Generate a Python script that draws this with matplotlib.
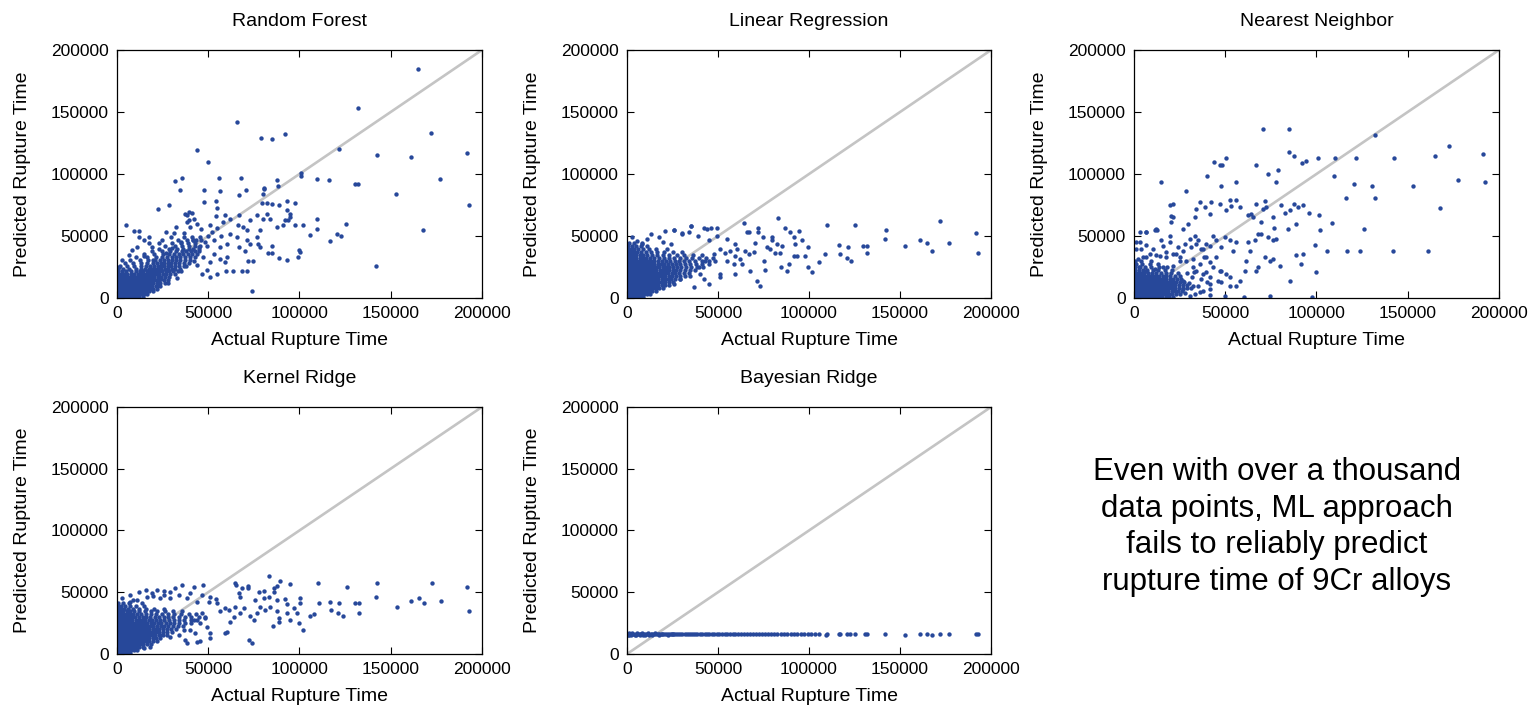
import matplotlib
matplotlib.use("Agg")
import matplotlib.pyplot as plt
import numpy as np

plt.rcParams['font.family'] = ['Liberation Sans', 'DejaVu Sans']

# ---------------- text / ticks ----------------
titles = ["Random Forest", "Linear Regression", "Nearest Neighbor", "Kernel Ridge", "Bayesian Ridge"]
x_label = "Actual Rupture Time"
y_label = "Predicted Rupture Time"
tick_values = [0, 50000, 100000, 150000, 200000]
tick_labels = ["0", "50000", "100000", "150000", "200000"]
note = "Even with over a thousand\ndata points, ML approach\nfails to reliably predict\nrupture time of 9Cr alloys"

# ---------------- data (thousands of hours): (actual, predicted) ----------------
rf_points = [
    (165, 185), (132, 153), (172, 133), (65.6, 142), (78.8, 129), (85, 128), (92, 132), (44, 119), (50, 110),
    (121.6, 120), (142.6, 115), (161, 114), (191.6, 117), (177, 96), (192.7, 75), (167.7, 55), (141.8, 25.8),
    (153, 84), (130.3, 92), (132.3, 92), (116, 95), (109.7, 96), (100.6, 100.7), (100.6, 98.5), (74, 5.4),
    (22.4, 72), (28.6, 75), (32, 94), (35.7, 96.6), (34.6, 86.7), (56, 97), (67.8, 97), (67, 83), (70.8, 87),
    (56.5, 86.5), (47.8, 87), (47.8, 77.6), (54, 77.9), (55, 72.8), (80.8, 89), (80.8, 87.5), (80.2, 83.5),
    (87.5, 95), (88, 90), (89, 74.6), (93, 78), (85, 76), (82, 77), (79.6, 77), (93, 70.6), (95, 68), (94.7, 65),
    (93.9, 62.6), (97.5, 77), (97.5, 59), (102, 59), (109.7, 64), (109.7, 55.6), (106, 51), (116.7, 46),
    (120.5, 52), (123, 50), (125.6, 60), (99, 33), (100, 39), (100.3, 37), (93, 31), (89, 32), (85, 36.5),
    (85, 42), (82.6, 36.5), (78.4, 41), (77.5, 43.8), (68.5, 22), (71.4, 22), (63.8, 22), (60, 22), (59, 29),
    (72, 30), (74.8, 29.5), (70, 38), (67, 41),
    (67.1, 66.6), (66.5, 59.1), (62, 63.9), (59.2, 66.6), (58, 61.2), (54.3, 65.8), (55, 56.4), (51, 58.5),
    (50.1, 49.7), (52, 53.2), (45.6, 49.1), (41.9, 47), (40.1, 57.2), (38.3, 61.2), (37.4, 67.9), (39.2, 69.3),
    (43.4, 46.5), (44.7, 41.1), (49.2, 41.6), (52.9, 35.7), (56.5, 41.1), (60.2, 43.8), (62, 51.8), (65.6, 49.1),
    (69.3, 57.2), (71.1, 54.5), (72.9, 62.6), (76.6, 66.6), (78.4, 54.5), (80.2, 63.9), (82, 67.9), (83.9, 63.9),
    (87.5, 57.2), (91.2, 58.5), (92.1, 62.6), (71.1, 46.5), (72.9, 43.8), (76.6, 49.1), (60.2, 33), (56.5, 31.7),
    (51, 29), (49.2, 22.3), (51, 16.9), (54.7, 19.6), (46.5, 19.6),
    (4.7, 58.9), (9.3, 54), (12, 54), (14.8, 46.7), (17.5, 49.4), (11.1, 41.3), (8.4, 38.6), (2.9, 30.5),
    (1.1, 25.1), (6.6, 34.6), (19.4, 41.3), (23, 44), (26.7, 53.4), (31.3, 52.1), (36.8, 52.1), (32.1, 57.5),
    (39.5, 62.9), (38.6, 67), (41.3, 68.3), (42, 64),
    (45, 38), (47, 33), (42, 30), (38, 26), (35, 22), (33, 16), (44, 27), (48, 45), (53, 47), (57, 50),
    (46, 56), (44, 60), (35, 45), (30, 40), (27, 36), (20, 31), (15, 34), (24, 15), (28, 12), (22, 10),
]
rf_core = [
    (0.8, [0.2, 1.4, 2.9, 4.3, 5.8, 7.4, 9.0, 10.6, 12.3, 14.0]),
    (3.0, [0.4, 1.9, 3.4, 5.0, 6.5, 8.1, 9.7, 11.3, 12.9, 14.6, 16.4]),
    (5.3, [0.2, 1.6, 3.1, 4.7, 6.2, 7.8, 9.4, 11.0, 12.6, 14.2, 15.9, 17.7, 19.8]),
    (7.6, [0.5, 2.0, 3.6, 5.1, 6.7, 8.3, 9.9, 11.5, 13.1, 14.7, 16.3, 18.0, 19.8, 22.1]),
    (9.9, [0.2, 1.7, 3.3, 4.8, 6.4, 8.0, 9.6, 11.2, 12.8, 14.4, 16.0, 17.7, 19.4, 21.2, 23.5]),
    (12.2, [0.6, 2.1, 3.7, 5.3, 6.9, 8.5, 10.1, 11.7, 13.3, 14.9, 16.5, 18.2, 19.9, 21.7, 23.8, 26.4]),
    (14.5, [0.3, 1.9, 3.5, 5.0, 6.6, 8.2, 9.8, 11.4, 13.0, 14.6, 16.2, 17.9, 19.6, 21.4, 23.3, 25.5, 28.0]),
    (16.8, [0.5, 2.2, 3.9, 5.6, 7.3, 9.0, 10.7, 12.3, 13.9, 15.5, 17.1, 18.8, 20.5, 22.3, 24.2, 26.3, 28.6]),
    (19.1, [0.3, 2.0, 3.8, 5.7, 7.6, 9.5, 11.3, 13.0, 14.7, 16.4, 18.1, 19.8, 21.5, 23.3, 25.1, 27.0, 29.2, 31.8]),
    (21.4, [0.6, 2.6, 4.9, 7.5, 10.2, 12.6, 14.5, 16.3, 18.0, 19.7, 21.4, 23.1, 24.9, 26.7, 28.6, 30.7, 33.4]),
    (23.7, [0.4, 3.2, 6.8, 10.5, 13.4, 15.6, 17.5, 19.3, 21.0, 22.7, 24.4, 26.2, 28.0, 29.9, 32.0, 34.6]),
    (26.0, [1.8, 5.5, 9.6, 13.2, 16.0, 18.3, 20.4, 22.3, 24.1, 25.9, 27.7, 29.6, 31.6, 33.9, 36.5]),
    (28.3, [4.2, 8.9, 13.1, 16.7, 19.5, 21.9, 24.0, 26.0, 27.9, 29.8, 31.8, 34.0, 36.6, 39.3]),
    (30.6, [7.0, 12.4, 17.1, 20.8, 23.6, 26.0, 28.2, 30.3, 32.4, 34.6, 37.1, 39.8]),
    (32.9, [10.5, 16.2, 21.3, 24.9, 27.6, 30.1, 32.5, 34.8, 37.2, 39.9, 42.6]),
    (35.2, [14.8, 20.5, 25.2, 28.6, 31.4, 33.9, 36.3, 38.7, 41.3, 44.1]),
    (37.5, [19.0, 24.6, 29.1, 32.5, 35.4, 38.0, 40.4, 43.0]),
    (39.8, [22.8, 28.5, 32.9, 36.3, 39.2, 41.9, 44.8]),
    (42.1, [26.5, 31.8, 35.9, 39.4, 42.6, 45.7]),
    (44.4, [17.3, 30.4, 35.1, 39.0, 42.9]),
    (46.7, [24.7, 33.6, 38.2, 41.8, 46.0]),
    (49.0, [12.0, 29.8, 36.7, 40.9]),
]

lr_points = [
    (82.7, 64.4), (64, 60.4), (71.7, 56.3), (71.7, 53.6), (65.9, 53.6), (67, 53.6), (46.1, 56.3), (42.1, 56.3),
    (35.1, 57.7), (30.2, 52.3), (26, 55), (21, 54.4), (33.9, 53.6), (38.8, 50.4), (44.8, 46.4), (49.4, 49.6),
    (54.9, 47.2), (59.1, 43.7), (70.1, 44.2), (74.7, 49.1), (79.8, 49.1), (86.6, 56.3), (89.7, 53.1), (94.6, 54.4),
    (91.5, 49.1), (99.7, 41), (109.8, 59), (116.2, 43.1), (121.3, 41), (129.9, 41.8), (131.8, 41.8), (125.4, 58.5),
    (142.2, 55.2), (141.5, 47.7), (152.8, 42.3), (160.7, 46.4), (164.7, 44.5), (167.4, 38.3), (172, 61.7),
    (177.1, 44.5), (191.6, 52.3), (192.7, 36.1), (132.1, 36.1), (116.8, 35.6), (120.8, 32.3), (123.2, 30.2),
    (108.5, 35.6), (105.6, 28.8), (101.6, 21.3), (99.2, 24.8), (97.9, 34.2), (96.1, 46.4), (92.4, 43.7),
    (93.3, 34.2), (91.5, 34.2), (88.8, 27.5), (87.8, 22.1), (84.7, 24.8), (84.2, 36.4), (81.1, 36.4), (78.7, 39.6),
    (76.9, 41), (85.1, 42.3), (82.4, 43.7), (79.6, 46.4), (75, 30.2), (75.9, 22.9), (71.4, 14), (73.2, 9.4),
    (67.3, 22.1), (63.1, 27.5), (62.2, 31.5), (66.8, 35.6), (69.5, 36.9), (64.9, 38.3), (59.5, 19.4), (58.6, 27.5),
    (54.9, 30.2), (51.2, 19.4), (51.2, 16.7), (44.8, 11.3), (36.6, 8.6), (42.1, 15.4), (51.2, 39.6), (53.9, 36.4),
    (56.7, 38.3), (60.4, 39.6), (59.5, 34.2), (47.6, 35.6), (43, 30.2), (39.3, 24.8), (40.3, 19.4), (34.8, 18.1),
    (29.3, 15.4), (25.6, 11.3),
    (2.9, 49), (8.4, 43.7), (13, 51.8), (17.6, 49), (25.8, 55), (30.4, 51.8), (5.5, 46), (11, 47.5), (20, 45),
    (24, 43.5), (34.9, 57.7), (44, 56), (49.4, 56.7),
]
lr_core = [
    (0.8, [0.2, 1.5, 2.9, 4.3, 5.8, 7.3, 8.9]),
    (3.2, [0.4, 1.8, 3.2, 4.7, 6.2, 7.7, 9.2, 10.8, 12.5]),
    (5.6, [0.2, 1.6, 3.0, 4.5, 6.0, 7.5, 9.0, 10.6, 12.2, 13.9, 15.8]),
    (8.0, [0.5, 1.9, 3.4, 4.9, 6.4, 7.9, 9.4, 11.0, 12.6, 14.2, 15.9, 17.7, 19.8]),
    (10.4, [0.3, 1.7, 3.2, 4.7, 6.2, 7.7, 9.2, 10.8, 12.4, 14.0, 15.6, 17.3, 19.0, 20.9, 23.2]),
    (12.8, [0.5, 2.0, 3.5, 5.0, 6.5, 8.0, 9.5, 11.1, 12.7, 14.3, 15.9, 17.5, 19.2, 21.0, 23.0, 25.4]),
    (15.2, [0.2, 1.7, 3.2, 4.7, 6.2, 7.7, 9.3, 10.9, 12.5, 14.1, 15.7, 17.3, 19.0, 20.7, 22.5, 24.4, 26.6, 29.1]),
    (17.6, [0.5, 2.0, 3.5, 5.0, 6.5, 8.1, 9.7, 11.3, 12.9, 14.5, 16.1, 17.7, 19.4, 21.1, 22.9, 24.8, 26.9, 29.3, 32.0]),
    (20.0, [0.3, 1.8, 3.3, 4.8, 6.3, 7.9, 9.5, 11.1, 12.7, 14.3, 15.9, 17.5, 19.2, 20.9, 22.7, 24.6, 26.6, 28.8, 31.2, 34.0]),
    (22.4, [0.6, 2.1, 3.6, 5.1, 6.6, 8.2, 9.8, 11.4, 13.0, 14.6, 16.2, 17.9, 19.6, 21.4, 23.2, 25.1, 27.1, 29.3, 31.7, 34.4, 37.5]),
    (24.8, [0.3, 1.8, 3.3, 4.8, 6.3, 7.9, 9.5, 11.1, 12.7, 14.4, 16.1, 17.8, 19.6, 21.4, 23.3, 25.3, 27.4, 29.7, 32.2, 35.0, 38.3, 41.8]),
    (27.2, [0.5, 2.0, 3.5, 5.1, 6.7, 8.3, 9.9, 11.6, 13.3, 15.0, 16.8, 18.6, 20.5, 22.5, 24.6, 26.8, 29.2, 31.8, 34.6, 37.8, 41.4, 45.3]),
    (29.6, [0.2, 1.7, 3.2, 4.8, 6.4, 8.0, 9.7, 11.4, 13.2, 15.1, 17.1, 19.2, 21.4, 23.7, 26.1, 28.6, 31.3, 34.2, 37.5, 41.2, 45.0, 48.6]),
    (32.0, [0.5, 2.0, 3.6, 5.2, 6.9, 8.7, 10.6, 12.7, 15.0, 17.6, 20.3, 23.1, 26.0, 29.0, 32.3, 35.9, 39.8, 43.6, 47.1]),
    (34.4, [0.3, 1.8, 3.4, 5.1, 6.9, 8.9, 11.2, 13.8, 16.7, 19.8, 23.3, 27.2, 31.4, 36.0, 41.2]),
    (36.8, [0.5, 2.1, 3.8, 5.7, 7.8, 10.2, 13.1, 16.5, 20.4, 25.0, 30.3]),
    (39.2, [0.3, 2.0, 3.9, 6.1, 8.7, 12.0, 16.2, 21.8]),
    (41.6, [0.6, 2.5, 4.8, 7.6, 11.2]),
    (44.0, [1.2, 3.9, 8.3]),
]

nn_points = [
    (70.7, 136.6), (84.9, 136.6), (132.2, 131.2), (172.6, 122.6), (164.9, 114.8), (191.5, 115.9), (142.4, 112.9),
    (121.6, 112.9), (109.9, 112.9), (100.8, 112.9), (94.4, 110.8), (92, 108.9), (87.6, 114.8), (84.9, 117.8),
    (50.2, 112.9), (43.8, 109.7), (47.3, 107), (48.4, 107), (67, 107), (78.9, 102.9), (73.4, 99.7), (77.6, 93.5),
    (56.1, 93.5), (47.7, 90.3), (40.2, 98.1), (15, 93.5), (28.3, 86), (109.6, 98.6), (120.7, 92.2), (130.4, 90.3),
    (152.8, 90.3), (177.5, 95.4), (192.6, 93.5), (116.3, 80.6), (132.2, 80.6), (167.8, 72.5), (125.8, 55.8),
    (108.6, 60.6), (101.2, 67.1), (101.7, 55.2), (105.9, 37.7), (117, 38.3), (123.6, 38.3), (141.9, 38.3),
    (161, 38.3), (99, 42.6), (99.9, 20.8), (97.7, 0.5), (74.3, 1.9), (60.3, 0.5), (49.7, 1.9), (85.3, 14),
    (80.2, 26.1), (88.9, 35), (92.6, 35.6), (91.7, 27.5), (88.6, 59.8), (84.4, 55.8), (85.3, 70.6), (89.8, 73.3),
    (92.6, 74.7), (82.5, 68.7), (87.5, 76), (95.9, 68.7), (80.3, 74.7), (76.1, 65.2), (72.5, 73.3), (71.6, 77.9),
    (76.5, 56.3), (78, 47.7), (76.1, 46.4), (73.4, 49), (69.8, 51.7), (74.3, 30.2), (76.1, 31.5), (71.6, 32.9),
    (67.9, 24.8), (66.6, 22.1), (60.6, 22.1), (61.5, 29.6), (66.1, 46.4), (62.4, 45.3), (63.4, 38.3), (69.8, 61.2),
    (67.9, 51.7), (65.2, 65.2), (64.3, 67.9), (62.4, 66.6), (70.7, 72), (67, 76), (57.9, 73.3), (55.7, 78.7),
    (52.4, 78.7), (53.3, 74.1), (50.6, 70.6), (46.9, 76), (42.4, 77.3), (41.4, 67.9), (38.7, 73.3), (36, 77.3),
    (34.1, 72), (33.2, 65.2), (29.6, 59.8), (26.8, 55.8), (20.5, 66), (20.5, 61.2), (21.4, 76), (19.6, 74.7),
    (12.6, 55.2), (11.3, 55), (6.4, 53.1), (3.1, 53.1), (0.9, 45), (0.9, 39.6), (47.8, 22.1), (50.6, 19.4),
    (52.4, 10), (41.4, 7.3), (46, 14), (41.9, 16.7), (56.1, 10), (57.9, 14), (54.2, 38.3), (52.4, 46.4),
    (56.1, 45.5), (49.7, 49), (47.8, 41), (45.1, 46.4), (43.3, 50.4), (39.6, 43.7), (36.9, 39.6), (35.1, 46.4),
    (33.2, 50.4), (30.5, 47.7), (27.8, 43.7), (24.1, 41), (19.5, 45), (15.9, 42.3), (15, 46.4), (10.4, 39.6),
    (6.8, 43.1), (8.6, 35.6), (4.9, 32.9), (38.3, 32.9), (41.4, 28.8), (45.1, 32.9), (36, 27.5), (32.3, 24.8),
    (28.7, 30.2), (25, 32.9), (21.4, 35.6), (17.7, 32.9), (14.1, 34.2),
    (3.1, 45), (6.8, 53.1), (12.3, 55.9), (21.4, 65.3), (19.6, 50.4), (4, 39.7), (2.2, 31.6), (6.8, 32.9),
    (12.3, 34.3), (17.7, 36.9), (23.2, 35.6), (26.8, 38.3), (31.4, 41), (34.2, 43.7), (37.8, 39.7), (41.5, 42.3),
    (39.7, 32.9), (32.3, 31.6), (25, 30.2), (21.4, 26.2), (15.9, 24.8), (11.3, 23.5), (6.8, 22.1), (3.1, 24.8),
    (0.4, 27.5), (34.2, 22.1), (39.7, 20.7), (43.3, 24.8), (46.9, 22.1), (41.5, 11.3), (47.9, 12.6), (52.4, 16.7),
    (26.8, 7.3), (32.3, 10), (37.8, 5.9), (41.5, 2.7), (27, 14), (30, 12), (32, 17), (35, 10), (37, 15), (29, 20),
    (33, 21), (38, 19), (40, 13), (31, 8), (36, 5), (28, 4), (30.5, 1.5), (33.5, 3),
]
nn_core = [
    (0.8, [0.2, 1.6, 3.0, 4.5, 6.0, 7.5, 9.0, 10.6, 12.2, 13.8, 15.5, 17.3, 19.2, 21.3]),
    (3.2, [0.4, 1.8, 3.3, 4.8, 6.3, 7.8, 9.3, 10.9, 12.5, 14.1, 15.7, 17.4, 19.1, 20.9, 22.8, 25.0]),
    (5.6, [0.2, 1.6, 3.1, 4.6, 6.1, 7.6, 9.2, 10.8, 12.4, 14.0, 15.6, 17.2, 18.9, 20.6, 22.4, 24.3, 26.5]),
    (8.0, [0.5, 1.9, 3.4, 4.9, 6.4, 7.9, 9.5, 11.1, 12.7, 14.3, 15.9, 17.5, 19.2, 20.9, 22.7, 24.6, 26.8, 29.3]),
    (10.4, [0.3, 1.7, 3.2, 4.7, 6.2, 7.8, 9.4, 11.0, 12.6, 14.2, 15.8, 17.4, 19.1, 20.8, 22.6, 24.5, 26.6, 28.9]),
    (12.8, [0.5, 2.0, 3.5, 5.0, 6.6, 8.2, 9.8, 11.4, 13.0, 14.6, 16.2, 17.9, 19.6, 21.4, 23.3, 25.3, 27.5]),
    (15.2, [0.2, 1.7, 3.2, 4.8, 6.4, 8.0, 9.6, 11.2, 12.8, 14.4, 16.1, 17.8, 19.6, 21.5, 23.5, 25.8]),
    (17.6, [0.5, 2.1, 3.7, 5.3, 6.9, 8.6, 10.3, 12.0, 13.8, 15.7, 17.7, 19.9, 22.3, 25.0]),
    (20.0, [0.3, 2.0, 3.8, 5.7, 7.7, 9.8, 12.1, 14.6, 17.4, 20.5, 23.9]),
    (22.4, [0.6, 2.6, 4.9, 7.4, 10.2, 13.3, 16.8, 20.6]),
    (24.8, [0.4, 3.0, 6.1, 9.6, 13.5, 18.0]),
    (27.2, [1.2, 4.5, 8.6, 13.2]),
    (29.6, [0.5, 3.8, 9.1]),
]

kr_points = [
    (83.1, 63.2), (89.5, 59.2), (95, 56.5), (87.6, 55.1), (85.8, 53.2), (86.2, 50.5), (64.8, 57.8), (65, 56),
    (71.6, 55.1), (71.8, 53.2), (68.5, 53.2), (66.6, 49.2), (67.6, 46.5), (77.6, 50.5), (80.3, 51.1), (75.8, 43.8),
    (80.3, 45.1), (83.1, 46.5), (87.6, 43.8), (92.2, 44.3), (93.1, 40.5), (100.4, 45.1), (100.4, 41.1),
    (110.1, 57.8), (110.5, 41.6), (116.9, 42.4), (121.8, 41.6), (130.6, 41.1), (132.4, 41.1), (126, 54.6),
    (142.4, 57.3), (142, 46.5), (153.4, 38.4), (161.2, 43.2), (165.3, 45.7), (168, 41.6), (172.6, 57.3),
    (177.7, 43), (191.7, 54.6), (193, 35.1), (132.7, 33.5), (117.4, 35.7), (121.1, 33), (123.8, 30.8),
    (105.9, 30.8), (107.7, 32.4), (101.9, 19.5), (99.5, 25.4), (98.6, 33), (96.8, 37), (93.1, 33), (94.9, 27.6),
    (88.9, 28.9), (88.6, 26.2), (85.3, 23), (87.6, 34.9), (84, 38.4), (81.3, 35.7), (78.5, 38.4), (72.7, 30.8),
    (74.9, 27.6), (72.1, 11.4), (73.9, 8.6), (76.7, 33), (69.4, 37), (67.6, 33), (64.8, 38.4), (64.1, 30.3),
    (62.1, 26.2), (60.3, 18.1), (59.3, 16.8), (51.1, 16.8), (51.1, 12.7), (49.3, 22.2), (45.7, 10.8), (43.8, 10),
    (38.3, 9.2), (37.4, 11.4), (56.6, 34.9), (59.3, 37), (61.2, 35.7), (54.8, 41.1), (54.4, 44.3), (51.1, 46),
    (47.1, 56), (42.4, 54.6), (35.6, 56), (32, 53.2), (25.6, 51.1), (21.9, 51.9), (19.2, 49.2), (23.7, 45.1),
    (33.8, 47.8), (40.2, 49.2), (46.6, 47.8), (50.2, 42.4), (43.8, 42.4), (38.3, 45.1), (29.2, 45.1), (16.4, 46.5),
    (13.7, 41.1), (11, 43.8), (7.3, 42.4), (46.6, 33), (48.4, 28.9), (42, 27.6), (45.7, 25.4), (42.9, 16.8),
    (40.2, 19.5), (36.5, 19.5), (33.8, 15.4), (29.2, 14.1), (23.7, 15.4), (18.3, 5.9), (14.6, 4.6),
    (3, 45), (7, 48), (12, 50), (16, 52), (20, 47), (26, 48), (29, 50), (9, 44),
]
kr_core = [
    (0.8, [0.2, 1.5, 2.9, 4.3, 5.8, 7.4]),
    (3.2, [0.4, 1.8, 3.2, 4.7, 6.2, 7.7, 9.3, 11.0]),
    (5.6, [0.2, 1.6, 3.0, 4.5, 6.0, 7.5, 9.0, 10.6, 12.3, 14.2]),
    (8.0, [0.5, 1.9, 3.4, 4.9, 6.4, 7.9, 9.4, 11.0, 12.6, 14.3, 16.2, 18.4]),
    (10.4, [0.3, 1.7, 3.2, 4.7, 6.2, 7.7, 9.2, 10.8, 12.4, 14.0, 15.7, 17.5, 19.5, 21.8]),
    (12.8, [0.5, 2.0, 3.5, 5.0, 6.5, 8.0, 9.6, 11.2, 12.8, 14.4, 16.0, 17.7, 19.5, 21.4, 23.6]),
    (15.2, [0.2, 1.7, 3.2, 4.7, 6.2, 7.8, 9.4, 11.0, 12.6, 14.2, 15.8, 17.5, 19.2, 21.0, 22.9, 25.0, 27.6]),
    (17.6, [0.5, 2.0, 3.5, 5.0, 6.6, 8.2, 9.8, 11.4, 13.0, 14.6, 16.2, 17.9, 19.6, 21.4, 23.3, 25.3, 27.5, 30.1]),
    (20.0, [0.3, 1.8, 3.3, 4.9, 6.5, 8.1, 9.7, 11.3, 12.9, 14.5, 16.1, 17.8, 19.5, 21.3, 23.2, 25.2, 27.3, 29.6, 32.2]),
    (22.4, [0.6, 2.1, 3.6, 5.2, 6.8, 8.4, 10.0, 11.6, 13.2, 14.8, 16.5, 18.2, 20.0, 21.9, 23.9, 26.0, 28.2, 30.6, 33.3, 36.4]),
    (24.8, [0.3, 1.8, 3.4, 5.0, 6.6, 8.2, 9.8, 11.4, 13.1, 14.8, 16.6, 18.4, 20.3, 22.3, 24.4, 26.6, 28.9, 31.4, 34.2, 37.3, 40.8]),
    (27.2, [0.5, 2.0, 3.6, 5.2, 6.8, 8.5, 10.2, 11.9, 13.7, 15.5, 17.4, 19.4, 21.5, 23.7, 26.0, 28.4, 31.0, 33.8, 36.9, 40.3, 44.0]),
    (29.6, [0.2, 1.7, 3.3, 4.9, 6.6, 8.3, 10.1, 12.0, 14.0, 16.1, 18.3, 20.6, 23.0, 25.5, 28.1, 30.9, 33.9, 37.2, 40.8, 44.7, 48.5]),
    (32.0, [0.5, 2.0, 3.6, 5.3, 7.1, 9.0, 11.1, 13.4, 15.9, 18.6, 21.5, 24.6, 27.9, 31.4, 35.2, 39.3, 43.5]),
    (34.4, [0.3, 1.8, 3.5, 5.3, 7.3, 9.6, 12.2, 15.1, 18.4, 22.1, 26.3, 30.9, 35.8]),
    (36.8, [0.5, 2.2, 4.1, 6.3, 8.9, 12.0, 15.8, 20.4, 25.8]),
    (39.2, [0.3, 2.1, 4.3, 7.0, 10.4, 14.9]),
    (41.6, [0.8, 3.2, 6.4]),
]

br_points = [
    (0.2, 16.4), (0.9, 15.7), (1.7, 16.2), (2.6, 15.9), (3.4, 16.5), (4.3, 15.6), (5.1, 16.1), (6.0, 16.4),
    (6.9, 15.8), (7.8, 16.2), (8.6, 15.6), (9.5, 16.3), (10.4, 15.9), (11.3, 16.4), (12.2, 15.7), (13.1, 16.1),
    (14.0, 16.3), (15.0, 15.8), (15.9, 16.2), (16.9, 15.9), (17.8, 16.3), (18.8, 15.8), (19.8, 16.1), (20.8, 16.2),
    (21.8, 15.8), (22.8, 16.1), (23.9, 16.3), (24.9, 15.9), (26.0, 16.1), (27.1, 16.2), (28.2, 15.8), (29.3, 16.0),
    (30.4, 16.2), (31.6, 15.9), (32.7, 16.1), (33.9, 16.0), (35.1, 16.2), (36.3, 15.9), (37.5, 16.1), (38.7, 16.0),
    (40.0, 15.9), (41.3, 16.1), (42.6, 16.0), (43.9, 15.8), (45.2, 16.1), (46.6, 16.0), (48.0, 15.9), (49.4, 16.1),
    (50.8, 16.0), (52.2, 15.8), (53.7, 16.0), (55.1, 16.1), (56.6, 15.9), (58.1, 16.0), (59.6, 15.8), (61.1, 16.0),
    (62.7, 15.9), (64.2, 16.1), (65.8, 15.8), (67.4, 16.0), (69.0, 15.9), (70.6, 16.0), (72.3, 15.8), (74.0, 16.0),
    (75.7, 15.9), (77.4, 16.1), (79.1, 15.9), (80.8, 16.0), (82.6, 15.8), (84.4, 16.0), (86.2, 16.1), (88.0, 15.9),
    (89.9, 16.0), (91.7, 15.8), (93.6, 16.0), (95.5, 16.1), (97.4, 15.9), (99.3, 16.0), (101.3, 15.8), (103.2, 16.0),
    (105.6, 15.9), (109.2, 15.7), (110.0, 16.0), (116.2, 16.1), (117.0, 15.8), (120.8, 16.2), (122.6, 16.0),
    (125.0, 16.1), (130.5, 15.8), (132.0, 15.9), (141.8, 16.2), (152.8, 15.6), (160.7, 15.8), (164.7, 16.3),
    (167.4, 15.7), (172.0, 15.8), (177.0, 16.2), (191.6, 16.1), (192.7, 16.0),
    (0.5, 15.4), (1.3, 16.7), (2.2, 15.3), (3.0, 16.7), (4.7, 15.4), (5.6, 16.7), (7.3, 15.4), (8.2, 16.6),
    (10.0, 15.4), (11.8, 16.6), (13.6, 15.4), (15.5, 16.6), (17.4, 15.5), (19.3, 16.5), (22.3, 15.5), (25.4, 16.5),
]

# ---------------- helpers ----------------
def gather(points, core_rows):
    xs = [p[0] for p in points]
    ys = [p[1] for p in points]
    for yv, row in core_rows:
        xs.extend(row)
        ys.extend([yv] * len(row))
    return np.array(xs) * 1000, np.array(ys) * 1000

panels = [
    (titles[0], gather(rf_points, rf_core), [0.0763, 0.5779, 0.2381, 0.3513]),
    (titles[1], gather(lr_points, lr_core), [0.4090, 0.5779, 0.2375, 0.3513]),
    (titles[2], gather(nn_points, nn_core), [0.7397, 0.5779, 0.2381, 0.3513]),
    (titles[3], gather(kr_points, kr_core), [0.0763, 0.0737, 0.2381, 0.3499]),
    (titles[4], gather(br_points, []), [0.4090, 0.0737, 0.2375, 0.3499]),
]

point_color = '#27489a'
line_color = '#c4c4c4'

fig = plt.figure(figsize=(15.33, 7.06), dpi=100)
for title, (xs, ys), rect in panels:
    ax = fig.add_axes(rect)
    ax.plot([0, 200000], [0, 200000], color=line_color, lw=1.9, zorder=1)
    ax.scatter(xs, ys, s=10, c=point_color, linewidths=0, zorder=2)
    ax.set_xlim(0, 200000)
    ax.set_ylim(0, 200000)
    ax.set_xticks(tick_values)
    ax.set_xticklabels(tick_labels)
    ax.set_yticks(tick_values)
    ax.set_yticklabels(tick_labels)
    ax.tick_params(direction='in', top=True, right=True, length=5, width=0.8,
                   labelsize=12.5, pad=6)
    for sp in ax.spines.values():
        sp.set_linewidth(0.9)
    ax.set_title(title, fontsize=14, pad=17)
    ax.set_xlabel(x_label, fontsize=14, labelpad=8)
    ax.set_ylabel(y_label, fontsize=14, labelpad=14)

fig.text(0.833, 0.2535, note, ha='center', va='center', fontsize=22.5, linespacing=1.3)

fig.savefig('out.png', dpi=100)
